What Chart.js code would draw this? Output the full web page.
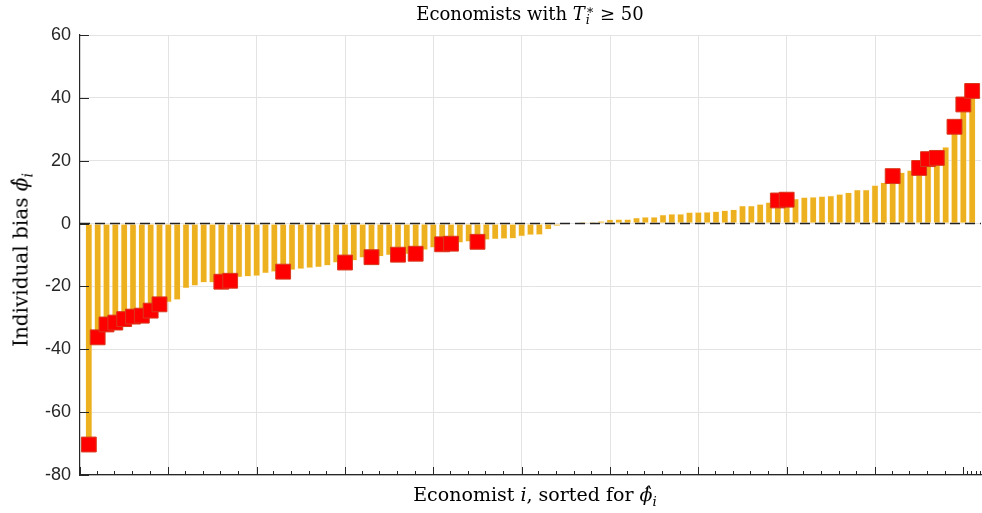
<!DOCTYPE html>
<html>
<head>
<meta charset="utf-8">
<script src="https://cdn.jsdelivr.net/npm/chart.js@4/dist/chart.umd.min.js"></script>
<style>
  body { margin: 0; background: #fff; overflow: hidden; }
  #wrap { position: relative; width: 982px; height: 513px; overflow: hidden; }
  #chart { display: block; }
  .tx { position: absolute; font-family: 'DejaVu Serif', 'Liberation Serif', serif; color: #000; white-space: nowrap; }
  #title { left: 80px; width: 900px; top: 3px; text-align: center; font-size: 18px; }
  #xlabel { left: 80px; width: 910px; top: 483px; text-align: center; font-size: 19px; }
  #ylabel { left: 22px; top: 260px; font-size: 20px; transform: translate(-50%, -50%) rotate(-90deg); }
  .ss { display: inline-block; vertical-align: middle; line-height: 0.8; font-size: 0.7em; text-align: left; margin-left: 1px; }
  .ss span { display: block; }
  sub { font-size: 0.7em; }
</style>
</head>
<body>
<div id="wrap">
  <canvas id="chart" width="982" height="513"></canvas>
  <div class="tx" id="title">Economists with <i>T</i><span class="ss"><span>∗</span><span><i>i</i></span></span> ≥ 50</div>
  <div class="tx" id="xlabel">Economist <i>i</i>, sorted for <i>ϕ̂</i><sub><i>i</i></sub></div>
  <div class="tx" id="ylabel">Individual bias <i>ϕ̂</i><sub><i>i</i></sub></div>
</div>
<script>
// sorted individual bias, one value per economist
const bias = [
  -70.3, -36.2, -32.1, -31.5, -30.4, -29.6, -29.3, -27.7, -25.7, -25.1,
  -24.3, -20.6, -19.8, -18.8, -18.8, -18.5, -18.2, -17.1, -16.9, -16.7,
  -15.8, -15.4, -15.3, -14.8, -14.5, -14.2, -13.9, -13.4, -12.5, -12.4,
  -11.8, -10.9, -10.7, -10.5, -10.1, -9.9, -9.8, -9.6, -8.4, -7.7,
  -6.6, -6.4, -6.1, -5.8, -5.8, -5.2, -5.0, -4.9, -4.8, -4.1,
  -3.7, -3.6, -1.9, -0.8, -0.3, -0.1, 0.5, 0.5, 0.8, 1.3,
  1.4, 1.4, 1.85, 2.1, 2.1, 2.8, 3.1, 3.1, 3.6, 3.65,
  3.75, 3.9, 4.2, 4.5, 5.7, 5.7, 6.2, 6.8, 7.35, 7.6,
  7.9, 8.4, 8.5, 8.7, 8.9, 9.4, 9.9, 10.8, 10.8, 12.2,
  13.1, 15.1, 16.3, 17.0, 17.7, 20.5, 20.9, 24.4, 30.8, 37.9,
  42.2
];
// economists (1-based rank) highlighted with a red square
const marked = [1, 2, 3, 4, 5, 6, 7, 8, 9, 16, 17, 23, 30, 33, 36, 38, 41, 42, 45, 79, 80, 92, 95, 96, 97, 99, 100, 101];
const yTicks = [-80, -60, -40, -20, 0, 20, 40, 60];
const xMajor = [0, 10, 20, 30, 40, 50, 60, 70, 80, 90, 100];
const xMinor = [2, 4, 6, 8, 12, 14, 16, 18, 22, 24, 26, 28, 32, 34, 36, 38, 42, 44, 46, 48, 52, 54, 56, 58,
  62, 64, 66, 68, 72, 74, 76, 78, 82, 84, 86, 88, 92, 94, 96, 98, 100.5, 101, 101.5, 102];

const barData = bias.map((v, i) => ({ x: i + 1, y: v }));
const markData = marked.map(k => ({ x: k, y: bias[k - 1] }));

const axisColor = '#262626';

const overlay = {
    id: 'overlay',
    afterDatasetsDraw(chart) {
        const { ctx, chartArea, scales } = chart;
        const y0 = scales.y.getPixelForValue(0);
        ctx.save();
        ctx.strokeStyle = '#222';
        ctx.lineWidth = 1.5;
        ctx.setLineDash([10, 5]);
        ctx.beginPath();
        ctx.moveTo(chartArea.left, y0);
        ctx.lineTo(chartArea.right, y0);
        ctx.stroke();
        ctx.restore();
    },
    afterDraw(chart) {
        const { ctx, chartArea, scales } = chart;
        ctx.save();
        ctx.strokeStyle = axisColor;
        ctx.lineWidth = 1;
        ctx.beginPath();
        xMajor.forEach(v => {
            const px = Math.round(scales.x.getPixelForValue(v)) + 0.5;
            ctx.moveTo(px, chartArea.bottom);
            ctx.lineTo(px, chartArea.bottom - 8);
        });
        xMinor.forEach(v => {
            const px = Math.round(scales.x.getPixelForValue(v)) - 0.5;
            ctx.moveTo(px, chartArea.bottom);
            ctx.lineTo(px, chartArea.bottom - 4);
        });
        yTicks.forEach(v => {
            const py = Math.round(scales.y.getPixelForValue(v)) + 0.5;
            ctx.moveTo(chartArea.left, py);
            ctx.lineTo(chartArea.left + 9, py);
        });
        ctx.stroke();
        ctx.restore();
    }
};

new Chart(document.getElementById('chart'), {
    type: 'bar',
    data: {
        datasets: [
            {
                type: 'scatter',
                data: markData,
                pointStyle: 'rect',
                pointRadius: 10.5,
                pointHoverRadius: 10.5,
                backgroundColor: '#ff0000',
                borderColor: '#d8381c',
                borderWidth: 1,
                clip: false,
                order: 0
            },
            {
                type: 'bar',
                data: barData,
                backgroundColor: '#edb120',
                borderColor: 'rgba(255, 236, 190, 0.9)',
                borderWidth: 0.6,
                borderSkipped: false,
                barPercentage: 0.97,
                categoryPercentage: 0.8,
                order: 1
            }
        ]
    },
    options: {
        responsive: false,
        animation: false,
        layout: { autoPadding: false, padding: { left: 0, top: 35, right: 1, bottom: 38 } },
        plugins: {
            legend: { display: false },
            title: { display: false },
            tooltip: { enabled: false }
        },
        scales: {
            x: {
                type: 'linear',
                min: 0,
                max: 102,
                offset: false,
                ticks: { display: false, stepSize: 10 },
                grid: {
                    offset: false,
                    drawTicks: false,
                    color: ctx => (ctx.tick && ctx.tick.value % 10 === 0 && ctx.tick.value > 0) ? '#e3e3e3' : 'rgba(0,0,0,0)'
                },
                border: { color: axisColor, width: 1.2 },
                afterFit: scale => {
                    scale.height = 0;
                    scale.paddingLeft = 0;
                    scale.paddingRight = 0;
                }
            },
            y: {
                min: -80,
                max: 60,
                ticks: {
                    stepSize: 20,
                    padding: 9,
                    color: axisColor,
                    font: { family: "'Liberation Sans', Arial, sans-serif", size: 18 }
                },
                grid: { drawTicks: false, color: '#e3e3e3' },
                border: { color: axisColor, width: 1.2 },
                afterFit: scale => { scale.width = 80; }
            }
        }
    },
    plugins: [overlay]
});
</script>
</body>
</html>
